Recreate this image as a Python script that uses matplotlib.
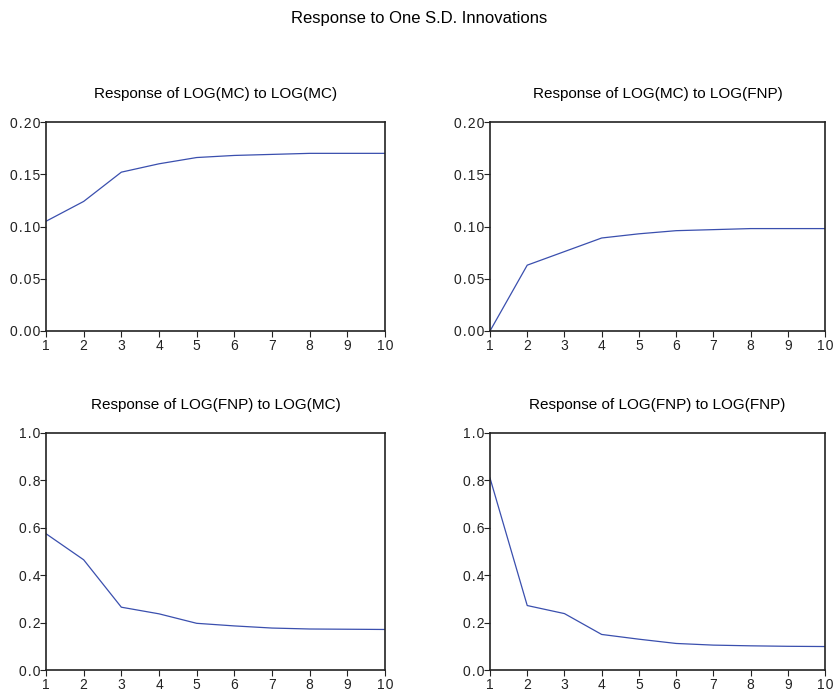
import matplotlib.pyplot as plt

# --------------------------------------------------
# Data
# --------------------------------------------------
periods = [1, 2, 3, 4, 5, 6, 7, 8, 9, 10]

mc_to_mc = [0.105, 0.124, 0.152, 0.160, 0.166, 0.168, 0.169, 0.170, 0.170, 0.170]
mc_to_fnp = [0.000, 0.063, 0.076, 0.089, 0.093, 0.096, 0.097, 0.098, 0.098, 0.098]
fnp_to_mc = [0.575, 0.465, 0.265, 0.237, 0.197, 0.186, 0.177, 0.173, 0.172, 0.171]
fnp_to_fnp = [0.810, 0.272, 0.238, 0.150, 0.130, 0.112, 0.105, 0.102, 0.100, 0.099]

titles = ["Response of LOG(MC) to LOG(MC)", "Response of LOG(MC) to LOG(FNP)",
          "Response of LOG(FNP) to LOG(MC)", "Response of LOG(FNP) to LOG(FNP)"]
top_ticks = [0.00, 0.05, 0.10, 0.15, 0.20]
bottom_ticks = [0.0, 0.2, 0.4, 0.6, 0.8, 1.0]

# --------------------------------------------------
# Figure
# --------------------------------------------------
plt.rcParams['font.family'] = ['Liberation Sans', 'DejaVu Sans']

W, H = 839, 693
fig = plt.figure(figsize=(W / 100, H / 100), dpi=100)

def box(x0, x1, ytop, ybot):
    return [x0 / W, 1 - ybot / H, (x1 - x0) / W, (ybot - ytop) / H]

def spaced(s):
    # the reference spreads tick label characters apart
    return "\u200a".join(s)

positions = [box(46, 385, 122, 331), box(490, 825, 122, 331),
             box(46, 385, 433, 670), box(490, 825, 433, 670)]
series = [mc_to_mc, mc_to_fnp, fnp_to_mc, fnp_to_fnp]

for i, (pos, ys) in enumerate(zip(positions, series)):
    ax = fig.add_axes(pos)
    ax.plot(periods, ys, color='#3a4fae', linewidth=0.9)
    ax.set_xlim(1, 10)
    ax.set_xticks(periods)
    ax.set_xticklabels([spaced(str(p)) for p in periods])
    if i < 2:
        ax.set_ylim(0, 0.20)
        ax.set_yticks(top_ticks)
        ax.set_yticklabels([spaced(f"{t:.2f}") for t in top_ticks])
    else:
        ax.set_ylim(0, 1.0)
        ax.set_yticks(bottom_ticks)
        ax.set_yticklabels([spaced(f"{t:.1f}") for t in bottom_ticks])
    ax.tick_params(direction='out', length=4, width=0.8, labelsize=10,
                   colors='#222222')
    ax.tick_params(axis='y', pad=0)
    ax.tick_params(axis='x', pad=1.5)
    for s in ax.spines.values():
        s.set_linewidth(1.2)
        s.set_color('#222222')
    ax.set_title(titles[i], fontsize=11, pad=17)

fig.text(0.5, 1 - 18 / H, "Response to One S.D. Innovations", ha='center', va='center',
         fontsize=12)

fig.savefig("out.png", dpi=100)
